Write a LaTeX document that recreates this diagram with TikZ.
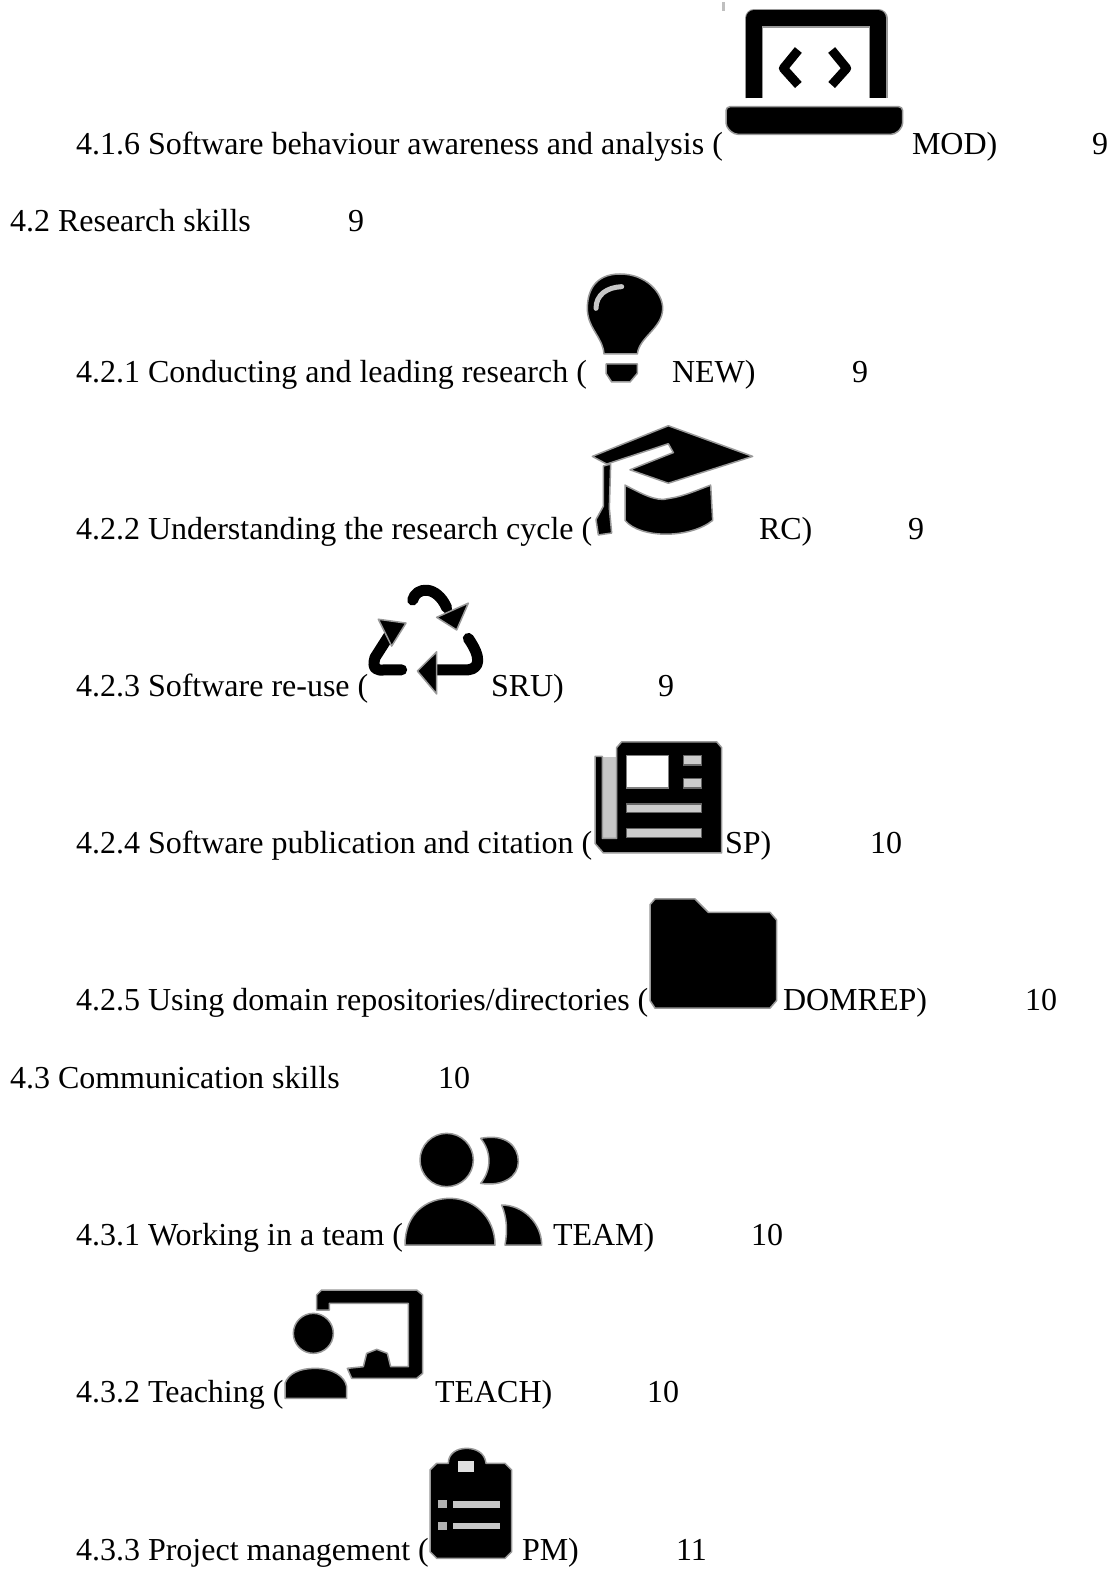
\documentclass[tikz,border=0pt]{standalone}
\usepackage{fontspec}
\setmainfont{Liberation Serif}
\tikzset{
  lbl/.style={anchor=base west,inner sep=0pt,outer sep=0pt,font=\fontsize{32}{38}\selectfont},
  ico/.style={fill=black,draw=black!40,line width=1.5pt,line join=round},
  hole/.style={fill=white,draw=black!50,line width=1.5pt},
  soft/.style={fill=black!20,draw=black!60,line width=1.5pt},
  zoomA/.style={shift={(580,0)},xscale=1/3,yscale=1/3},
  zoomB/.style={shift={(340,420)},xscale=1/3,yscale=1/2.61},
  zoomC/.style={shift={(270,1120)},xscale=1/3,yscale=1/3}
}
\begin{document}
\begin{tikzpicture}[x=1pt,y=-1pt]
\useasboundingbox[fill=white] (0,0) rectangle (1116,1570);
% ---- texts
\node[lbl] (a1) at (76,154.5) {4.1.6 Software behaviour awareness and analysis (};
\node[lbl] (a2) at (912,154.5) {MOD)};
\node[lbl] (a3) at (1092,154.5) {9};
\node[lbl] (b1) at (10,231.5) {4.2 Research skills};
\node[lbl] (b2) at (348,231.5) {9};
\node[lbl] (c1) at (76,382.5) {4.2.1 Conducting and leading research (};
\node[lbl] (c2) at (672,382.5) {NEW)};
\node[lbl] (c3) at (852,382.5) {9};
\node[lbl] (d1) at (76,539) {4.2.2 Understanding the research cycle (};
\node[lbl] (d2) at (759,539) {RC)};
\node[lbl] (d3) at (908,539) {9};
\node[lbl] (e1) at (76,696.5) {4.2.3 Software re-use (};
\node[lbl] (e2) at (491,696.5) {SRU)};
\node[lbl] (e3) at (658,696.5) {9};
\node[lbl] (f1) at (76,853.5) {4.2.4 Software publication and citation (};
\node[lbl] (f2) at (725,853.5) {SP)};
\node[lbl] (f3) at (870,853.5) {10};
\node[lbl] (g1) at (76,1010.5) {4.2.5 Using domain repositories/directories (};
\node[lbl] (g2) at (783,1010.5) {DOMREP)};
\node[lbl] (g3) at (1025,1010.5) {10};
\node[lbl] (h1) at (10,1088.5) {4.3 Communication skills};
\node[lbl] (h2) at (438,1088.5) {10};
\node[lbl] (i1) at (76,1245.5) {4.3.1 Working in a team (};
\node[lbl] (i2) at (553,1245.5) {TEAM)};
\node[lbl] (i3) at (751,1245.5) {10};
\node[lbl] (j1) at (76,1402.5) {4.3.2 Teaching (};
\node[lbl] (j2) at (435,1402.5) {TEACH)};
\node[lbl] (j3) at (647,1402.5) {10};
\node[lbl] (k1) at (76,1560) {4.3.3 Project management (};
\node[lbl] (k2) at (522,1560) {PM)};
\node[lbl] (k3) at (676,1560) {11};
% ---- laptop
\begin{scope}[zoomA]
\fill[black!25] (427,5) rectangle (436,33);
\draw[draw=black!40,line width=18.5pt,line join=round] (522,295) -- (522,55) -- (895,55) -- (895,295);
\draw[draw=black,line width=16pt,line join=round] (522,295) -- (522,55) -- (895,55) -- (895,295);
\path[ico,rounded corners=4pt] (438,320) -- (968,320) -- (968,380) -- (945,403) -- (462,403) -- (438,380) -- cycle;
\draw[line width=9pt,line join=round] (655,150) -- (610,205) -- (655,255);
\draw[line width=9pt,line join=round] (755,150) -- (800,205) -- (755,255);
% ---- bulb
\path[ico] (120,822) .. controls (40,822) and (22,880) .. (22,925)
  .. controls (22,985) and (68,1010) .. (72,1062) -- (172,1062)
  .. controls (178,1010) and (248,985) .. (248,925)
  .. controls (248,880) and (200,822) .. (120,822) -- cycle;
\draw[black!22,line width=5pt,line cap=round] (48,925) .. controls (48,885) and (80,862) .. (125,860);
\path[ico] (78,1092) -- (172,1092) -- (172,1120) -- (150,1146) -- (95,1146) -- (78,1120) -- cycle;
\end{scope}
% ---- cap, recycle, newspaper, folder
\begin{scope}[zoomB]
\path[ico] (985,15) -- (1238,95) -- (985,165) -- (870,130) -- (1000,85) -- (985,62) -- (800,115) -- (757,95) -- cycle;
\path[ico] (855,170) .. controls (900,190) and (950,215) .. (985,205) .. controls (1030,200) and (1080,180) .. (1112,170)
  -- (1118,262) .. controls (1050,310) and (900,310) .. (855,262) -- cycle;
\path[ico] (790,120) -- (812,115) -- (808,230) -- (815,295) -- (775,300) -- (768,260) -- (790,225) -- cycle;
% recycle
\draw[line width=11pt,line cap=round,line join=round] (218,470) .. controls (228,435) and (290,430) .. (320,490);
\path[ico] (385,478) -- (290,515) -- (350,548) -- cycle;
\draw[line width=11pt,line cap=round,line join=round] (160,545) -- (105,620) .. controls (95,650) and (110,655) .. (135,652) -- (185,652);
\path[ico] (115,520) -- (198,530) -- (155,590) -- cycle;
\draw[line width=11pt,line cap=round,line join=round] (270,652) -- (385,652) .. controls (420,648) and (425,620) .. (385,570);
\path[ico] (232,655) -- (290,605) -- (290,715) -- cycle;
% newspaper
\path[fill=black!22] (785,880) rectangle (830,1095);
\path[ico] (765,878) -- (787,878) -- (787,1092) -- (830,1092) -- (830,855) -- (845,840) -- (1130,840) -- (1145,855) -- (1145,1130) -- (790,1130) -- (765,1105) -- cycle;
\path[hole] (860,875) rectangle (985,960);
\path[soft] (1030,875) rectangle (1085,900);
\path[soft] (1030,935) rectangle (1085,960);
\path[soft] (860,1002) rectangle (1085,1025);
\path[soft] (860,1066) rectangle (1085,1089);
% folder
\path[ico] (945,1250) -- (1065,1250) -- (1105,1285) -- (1290,1285) -- (1310,1305) -- (1310,1515) -- (1290,1535) -- (945,1535) -- (930,1515) -- (930,1265) -- cycle;
\end{scope}
% ---- team, teach, clipboard
\begin{scope}[zoomC]
\path[ico] (530,120) ellipse [x radius=80,y radius=80];
\path[ico] (632,55) .. controls (710,40) and (745,80) .. (745,125) .. controls (745,170) and (700,200) .. (632,190) .. controls (665,150) and (665,95) .. (632,55) -- cycle;
\path[ico] (405,375) .. controls (405,280) and (470,235) .. (540,235) .. controls (610,235) and (675,290) .. (675,375) -- cycle;
\path[ico] (695,255) .. controls (760,255) and (815,310) .. (815,375) -- (705,375) .. controls (712,335) and (712,295) .. (695,255) -- cycle;
% teach
\path[ico] (130,640) ellipse [x radius=60,y radius=60];
\path[ico] (45,835) -- (45,790) .. controls (55,760) and (90,745) .. (135,745) .. controls (190,745) and (225,770) .. (230,800) -- (230,835) -- cycle;
\path[ico] (140,570) -- (140,525) -- (155,510) -- (440,510) -- (458,525) -- (458,760) -- (440,775) -- (245,775) -- (232,745) -- (280,740) -- (290,700) -- (320,688) -- (352,700) -- (362,740) -- (415,740) -- (415,550) -- (178,550) -- (178,570) -- cycle;
% clipboard
\path[ico] (500,1030) -- (535,1030) .. controls (535,1000) and (560,985) .. (590,985) .. controls (620,985) and (645,1000) .. (648,1030) -- (705,1030) -- (725,1050) -- (725,1295) -- (705,1315) -- (500,1315) -- (480,1295) -- (480,1050) -- cycle;
\path[fill=black!12] (565,1022) rectangle (612,1055);
\path[fill=black!30] (505,1140) rectangle (530,1165);
\path[fill=black!22] (550,1143) rectangle (690,1163);
\path[fill=black!30] (505,1205) rectangle (530,1230);
\path[fill=black!22] (550,1208) rectangle (690,1228);
\end{scope}
\end{tikzpicture}
\end{document}
